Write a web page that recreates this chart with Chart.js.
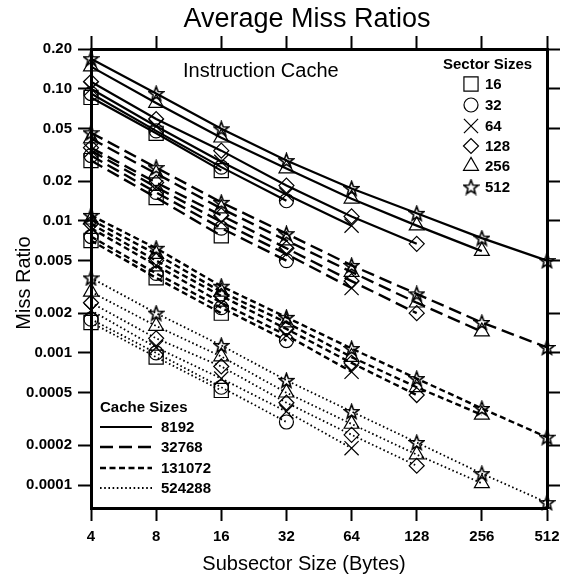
<!DOCTYPE html>
<html>
<head>
<meta charset="utf-8">
<script src="https://cdn.jsdelivr.net/npm/chart.js@4/dist/chart.umd.min.js"></script>
<style>
  html, body { margin: 0; padding: 0; background: #fff; }
  #wrap { width: 573px; height: 577px; }
</style>
</head>
<body>
<div id="wrap"><canvas id="c" width="573" height="577"></canvas></div>
<script>
/* Average miss ratios — instruction cache, log/log */

const subsectors  = [4, 8, 16, 32, 64, 128, 256, 512];
const sectorSizes = [16, 32, 64, 128, 256, 512];
const cacheSizes  = [8192, 32768, 131072, 524288];

const yTicks      = [0.2, 0.1, 0.05, 0.02, 0.01, 0.005, 0.002, 0.001, 0.0005, 0.0002, 0.0001];
const yTickLabels = ['0.20', '0.10', '0.05', '0.02', '0.01', '0.005', '0.002', '0.001', '0.0005', '0.0002', '0.0001'];

// one row per sector size (16 … 512), values at subsector 4, 8, 16 … up to the sector size
const miss8192 = [
  [0.086, 0.046, 0.024],
  [0.092, 0.048, 0.0255, 0.0142],
  [0.100, 0.052, 0.028, 0.0158, 0.0092],
  [0.113, 0.059, 0.034, 0.0185, 0.0108, 0.0067],
  [0.147, 0.078, 0.0426, 0.0249, 0.0147, 0.0092, 0.0059],
  [0.169, 0.092, 0.0498, 0.0286, 0.0176, 0.0114, 0.0074, 0.0050],
];
const miss32768 = [
  [0.0286, 0.015, 0.0077],
  [0.0312, 0.0164, 0.0088, 0.0050],
  [0.034, 0.018, 0.0098, 0.0056, 0.0031],
  [0.0358, 0.0195, 0.0110, 0.0062, 0.0035, 0.0020],
  [0.042, 0.0228, 0.0124, 0.0071, 0.0041, 0.0024, 0.00145],
  [0.0465, 0.0253, 0.0138, 0.0080, 0.0046, 0.0028, 0.0017, 0.0011],
];
const miss131072 = [
  [0.0071, 0.0037, 0.0020],
  [0.0076, 0.0040, 0.0022, 0.00124],
  [0.0088, 0.0046, 0.0024, 0.00136, 0.00072],
  [0.0095, 0.0050, 0.0027, 0.00152, 0.00084, 0.00048],
  [0.0102, 0.0056, 0.0029, 0.0017, 0.00093, 0.00055, 0.00034],
  [0.0110, 0.0062, 0.0032, 0.00186, 0.00108, 0.00064, 0.00038, 0.00023],
];
const miss524288 = [
  [0.0017, 0.00093, 0.00052],
  [0.0018, 0.0010, 0.00055, 0.00030],
  [0.0021, 0.0011, 0.00064, 0.00036, 0.00019],
  [0.0024, 0.00129, 0.00079, 0.00042, 0.00024, 0.00014],
  [0.0029, 0.0016, 0.00094, 0.00050, 0.00029, 0.00017, 0.000103],
  [0.0037, 0.0020, 0.00114, 0.00062, 0.00036, 0.00021, 0.000122, 0.0000736],
];
const missByCache = [miss8192, miss32768, miss131072, miss524288];

/* ── styles ── */
const FONT = '"Liberation Sans", Arial, Helvetica, sans-serif';
const DASHES = [[], [13, 6], [6, 3.5], [1.6, 2.6]];
const LINE_W = [2.2, 2.4, 2.4, 1.8];

function makeStar(size) {
  const cv = document.createElement('canvas');
  cv.width = size; cv.height = size;
  const c = cv.getContext('2d');
  const cx = size / 2, cy = size / 2 + 0.6, R = size / 2 - 1, r = R * 0.42;
  c.beginPath();
  for (let i = 0; i < 10; i++) {
    const a = -Math.PI / 2 + i * Math.PI / 5;
    const rr = i % 2 ? r : R;
    c.lineTo(cx + rr * Math.cos(a), cy + rr * Math.sin(a));
  }
  c.closePath();
  c.strokeStyle = '#000'; c.lineWidth = 1.6; c.stroke();
  return cv;
}
const STAR = makeStar(17);

const MARKERS = [
  { pointStyle: 'rect',     radius: 10 },
  { pointStyle: 'circle',   radius: 7 },
  { pointStyle: 'crossRot', radius: 10 },
  { pointStyle: 'rectRot',  radius: 7.5 },
  { pointStyle: 'triangle', radius: 8.6 },
  { pointStyle: STAR,       radius: 8 },
];

const datasets = [];
cacheSizes.forEach((cs, ci) => {
  sectorSizes.forEach((ss, si) => {
    const vals = missByCache[ci][si];
    datasets.push({
      label: cs + ' / ' + ss,
      data: vals.map((v, k) => ({ x: subsectors[k], y: v })),
      borderColor: '#000', borderWidth: LINE_W[ci], borderDash: DASHES[ci],
      pointStyle: MARKERS[si].pointStyle, pointRadius: MARKERS[si].radius,
      pointBorderColor: '#000', pointBorderWidth: 1.2,
      pointBackgroundColor: 'rgba(0,0,0,0)',
      fill: false, tension: 0, clip: false,
    });
  });
});

/* ── axes ── */
const tickFont = { family: FONT, size: 15, weight: 'bold' };
const gridCfg = { drawOnChartArea: false, drawTicks: true, tickLength: 13, tickWidth: 2, tickColor: '#000', color: '#000' };
const borderCfg = { display: true, width: 3, color: '#000' };

function xAxis(pos, h, show) {
  return {
    type: 'logarithmic', position: pos, min: 4, max: 512,
    afterBuildTicks: s => { s.ticks = subsectors.map(v => ({ value: v })); },
    afterFit: s => { s.height = h; },
    ticks: { display: show, autoSkip: false, maxRotation: 0, padding: 7, color: '#000', font: tickFont,
             callback: v => String(v) },
    grid: gridCfg, border: borderCfg,
  };
}
function yAxis(pos, w, show) {
  return {
    type: 'logarithmic', position: pos, min: 0.000067, max: 0.2,
    afterBuildTicks: s => { s.ticks = yTicks.map(v => ({ value: v })); },
    afterFit: s => { s.width = w; },
    ticks: { display: show, autoSkip: false, padding: 6, color: '#000', font: tickFont,
             callback: v => { const i = yTicks.indexOf(v); return i >= 0 ? yTickLabels[i] : ''; } },
    grid: gridCfg, border: borderCfg,
  };
}

/* ── texts and the two keys ── */
const annotate = {
  id: 'annotate',
  afterDraw(chart) {
    const ctx = chart.ctx;
    ctx.save();
    ctx.fillStyle = '#000';
    ctx.textBaseline = 'alphabetic';

    ctx.font = '27px ' + FONT; ctx.textAlign = 'center';
    ctx.fillText('Average Miss Ratios', 307, 27);

    ctx.font = '20px ' + FONT; ctx.textAlign = 'left';
    ctx.fillText('Instruction Cache', 183, 77);

    ctx.textAlign = 'center';
    ctx.fillText('Subsector Size (Bytes)', 304, 570);
    ctx.save();
    ctx.translate(30, 283); ctx.rotate(-Math.PI / 2);
    ctx.fillText('Miss Ratio', 0, 0);
    ctx.restore();

    // sector sizes key
    ctx.font = 'bold 15px ' + FONT; ctx.textAlign = 'left';
    ctx.fillText('Sector Sizes', 443, 69);
    const rowsY = [84, 105, 126, 146, 166, 187];
    sectorSizes.forEach((s, i) => {
      ctx.fillStyle = 'rgba(0,0,0,0)'; ctx.strokeStyle = '#000'; ctx.lineWidth = 1.2;
      Chart.helpers.drawPoint(ctx, { pointStyle: MARKERS[i].pointStyle, radius: MARKERS[i].radius, rotation: 0, borderWidth: 1.2 }, 471, rowsY[i]);
      ctx.fillStyle = '#000';
      ctx.textBaseline = 'middle';
      ctx.fillText(String(s), 485, rowsY[i] + 1);
    });

    // cache sizes key
    ctx.textBaseline = 'alphabetic';
    ctx.fillText('Cache Sizes', 100, 412);
    const cy = [427, 447, 468, 488];
    cacheSizes.forEach((c, i) => {
      ctx.beginPath();
      ctx.setLineDash(DASHES[i]); ctx.lineWidth = LINE_W[i]; ctx.strokeStyle = '#000';
      ctx.moveTo(100, cy[i]); ctx.lineTo(152, cy[i]); ctx.stroke();
      ctx.setLineDash([]);
      ctx.textBaseline = 'middle';
      ctx.fillText(String(c), 161, cy[i] + 1);
    });
    ctx.restore();
  },
};

new Chart(document.getElementById('c'), {
  type: 'line',
  data: { datasets },
  options: {
    responsive: false, animation: false,
    layout: { padding: 0 },
    plugins: { legend: { display: false }, title: { display: false }, tooltip: { enabled: false } },
    scales: {
      x:  xAxis('bottom', 69, true),
      x2: xAxis('top', 49, false),
      y:  yAxis('left', 91, true),
      y2: yAxis('right', 26, false),
    },
  },
  plugins: [annotate],
});
</script>
</body>
</html>
